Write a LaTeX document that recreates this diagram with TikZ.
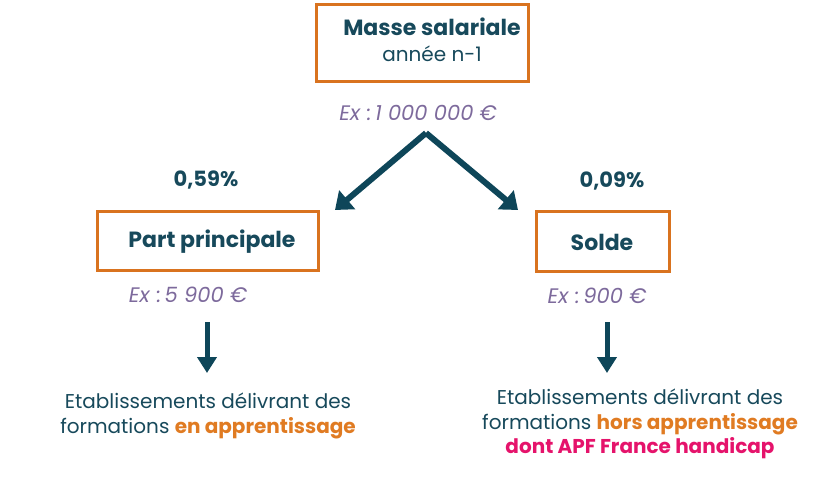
\documentclass[tikz,border=0pt]{standalone}
\usepackage{fontspec}
\setmainfont{Poppins}
\usetikzlibrary{arrows.meta}
\definecolor{boxor}{HTML}{D9731F}
\definecolor{teal}{HTML}{17495B}
\definecolor{arr}{HTML}{0E4659}
\definecolor{purp}{HTML}{7D6A9C}
\definecolor{ortxt}{HTML}{E07B22}
\definecolor{pink}{HTML}{E5136B}
\tikzset{
  obox/.style={draw=boxor, line width=3pt, inner sep=0pt},
  ttl/.style={text=teal, font=\fontsize{22}{26}\selectfont\bfseries},
  sub/.style={text=teal, font=\fontsize{20}{24}\selectfont},
  ex/.style={text=purp, font=\fontsize{21}{24}\selectfont\itshape},
  pct/.style={text=teal, font=\fontsize{21}{25}\selectfont\bfseries},
  desc/.style={text=teal, align=center, font=\fontsize{20}{24.5}\selectfont},
  bigarr/.style={draw=arr, line width=6pt, -{Triangle[length=16pt,width=24pt]}},
  downarr/.style={draw=arr, line width=5pt, -{Triangle[length=16pt,width=19pt]}}
}
\begin{document}
\begin{tikzpicture}[x=1pt,y=-1pt]
\useasboundingbox (0,0) rectangle (840,485);
\node[obox, minimum width=212pt, minimum height=77pt] (top) at (422,42.5) {};
\node[ttl] (ms) at (432,27) {Masse salariale};
\node[sub] (an) at (432,54) {année n-1};
\node[ex] (ex1) at (418,113) {Ex\,\,:\,1 000 000 €};
\coordinate (apex) at (426,133);
\coordinate (lt) at (335,210);
\coordinate (rt) at (518,210);
\draw[bigarr] (apex) -- (lt);
\draw[bigarr] (apex) -- (rt);
\node[pct] (p1) at (206,180) {0,59\%};
\node[pct] (p2) at (612,181) {0,09\%};
\node[obox, minimum width=221pt, minimum height=59pt] (pp) at (207.5,240.5) {};
\node[ttl] (ppt) at (212,242) {Part principale};
\node[obox, minimum width=133pt, minimum height=60pt] (so) at (602.5,241) {};
\node[ttl] (sot) at (602,242) {Solde};
\node[ex] (ex2) at (188,295) {Ex\,\,:\,5 900 €};
\node[ex] (ex3) at (597,296) {Ex\,\,:\,900 €};
\coordinate (l1) at (207,322);
\coordinate (l2) at (207,373);
\coordinate (r1) at (607,322);
\coordinate (r2) at (607,373);
\draw[downarr] (l1) -- (l2);
\draw[downarr] (r1) -- (r2);
\node[desc] (dl) at (208,416) {Etablissements délivrant des\\formations \textcolor{ortxt}{\bfseries en apprentissage}};
\node[desc] (dr) at (640,424) {Etablissements délivrant des\\formations \textcolor{ortxt}{\bfseries hors apprentissage}\\\textcolor{pink}{\bfseries dont APF France handicap}};
\end{tikzpicture}
\end{document}
